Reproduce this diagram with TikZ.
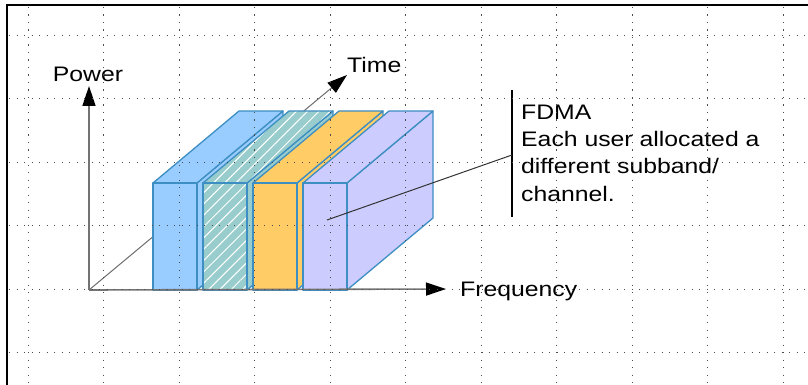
\documentclass[tikz,border=0pt]{standalone}
\usepackage{fontspec}
\setmainfont{Liberation Sans}[FakeStretch=1.18]
\usetikzlibrary{arrows.meta,patterns.meta}
\definecolor{blkblue}{HTML}{99CCFF}
\definecolor{blkteal}{HTML}{99CCCC}
\definecolor{blkorange}{HTML}{FFCC66}
\definecolor{blklav}{HTML}{CCCCFF}
\definecolor{blkedge}{HTML}{3D8EC2}
\tikzset{
  axis_ln/.style = {draw=gray!90!black, line width=1.6pt, -{Triangle[length=20pt,width=13pt,color=black]}},
  time_ln/.style = {draw=gray!85!black, line width=1pt, -{Triangle[length=20pt,width=13pt,color=black]}},
  axis_lbl/.style = {inner sep=0pt, font=\fontsize{21}{27.3}\selectfont},
  % block faces
  blk/.style = {draw=blkedge, line width=1.3pt, line join=round},
  blk_blue/.style = {blk, fill=blkblue},
  blk_orange/.style = {blk, fill=blkorange},
  blk_lav/.style = {blk, fill=blklav},
  blk_hatch/.style = {blk, preaction={fill=blkteal}, pattern={Lines[angle=45,distance=8pt,line width=1pt]}, pattern color=white},
  grid_ln/.style = {draw=black!70, line width=0.9pt, dash pattern=on 1.1pt off 6.4pt}
}
\begin{document}
\begin{tikzpicture}[x=1pt,y=-1pt]
    \useasboundingbox (0,0) rectangle (808,385);
    % frame
    \draw[line width=1.8pt] (7,385) -- (7,5) -- (808,5);
    % axes:
    \coordinate (origin) at (89,290);
    \coordinate (pwrtip) at (89,86);
    \coordinate (freqtip) at (446,289);
    \coordinate (timetip) at (347,75);
    \draw[time_ln] (origin) -- (timetip);
    % Blocks, back to front (x, face style, side colour):
    \foreach \x/\sty/\col in {153/blk_blue/blkblue, 203/blk_hatch/blkteal, 253/blk_orange/blkorange, 303/blk_lav/blklav}{
        \draw[blk, fill=\col] (\x+44,183) -- (\x+130,111) -- (\x+130,218) -- (\x+44,290) -- cycle;
        \draw[\sty] (\x,183) -- (\x+86,111) -- (\x+130,111) -- (\x+44,183) -- cycle;
        \draw[\sty] (\x,183) rectangle (\x+44,290);
    }
    \draw[axis_ln] (origin) -- (pwrtip);
    \draw[axis_ln] (origin) -- (freqtip);
    \node[axis_lbl, anchor=base] (power) at (88,82) {Power};
    \node[axis_lbl, anchor=base west] (time) at (347,73) {Time};
    \node[axis_lbl, anchor=base west] (freq) at (460,296) {Frequency};
    % FDMA note:
    \coordinate (bartop) at (512,90);
    \coordinate (barbot) at (512,217);
    \coordinate (barhit) at (512,155);
    \coordinate (blkpt) at (327,220);
    \draw[line width=1.2pt] (bartop) -- (barbot);
    \draw[line width=1pt, black!80] (blkpt) -- (barhit);
    \node[axis_lbl, anchor=north west, align=left] (fdmanote) at (521,104.5)
        {FDMA\\Each user allocated a\\different subband/\\channel.};
    % dotted grid on top
    \foreach \gx in {0,...,10}
        \draw[grid_ln] (28+75.5*\gx,7) -- (28+75.5*\gx,385);
    \foreach \gy in {0,...,5}
        \draw[grid_ln] (9,35+63.5*\gy) -- (808,35+63.5*\gy);
\end{tikzpicture}
\end{document}
